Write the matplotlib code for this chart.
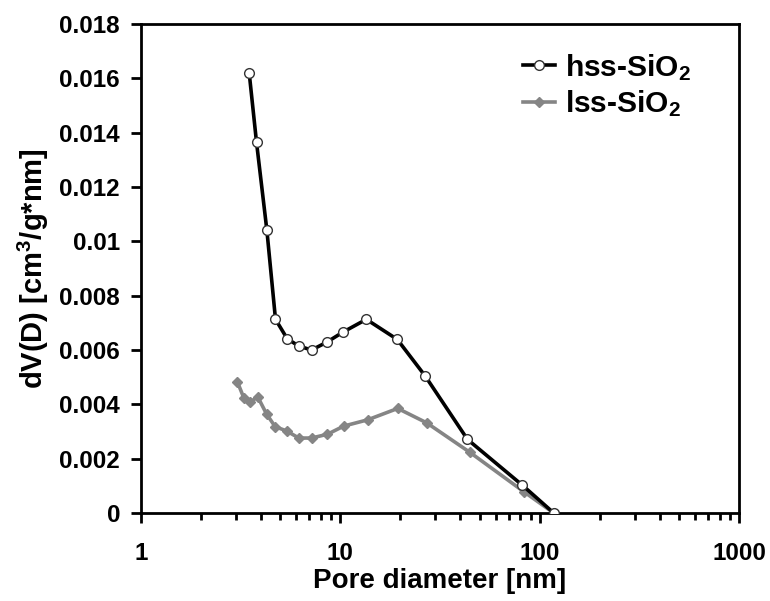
import matplotlib
matplotlib.use('Agg')
import matplotlib.pyplot as plt
from matplotlib.ticker import FixedLocator, LogLocator, NullFormatter

plt.rcParams['font.family'] = ['Liberation Sans', 'DejaVu Sans']
plt.rcParams['font.weight'] = 'bold'
plt.rcParams['mathtext.fontset'] = 'custom'
plt.rcParams['mathtext.rm'] = 'Liberation Sans:bold'
plt.rcParams['mathtext.bf'] = 'Liberation Sans:bold'
plt.rcParams['mathtext.it'] = 'Liberation Sans:bold'

# hss-SiO2 pore size distribution
hss_d = [3.49, 3.80, 4.28, 4.73, 5.41, 6.17, 7.17, 8.56, 10.26, 13.5, 19.3, 26.6, 43.4, 81.9, 117.5]
hss_v = [0.01621, 0.01364, 0.01042, 0.00713, 0.00642, 0.00615, 0.00600, 0.00629,
         0.00665, 0.00713, 0.00639, 0.00505, 0.00271, 0.00102, 0.0]

# lss-SiO2 pore size distribution
lss_d = [3.05, 3.28, 3.52, 3.85, 4.27, 4.71, 5.38, 6.19, 7.17, 8.62, 10.4, 13.7,
         19.4, 27.1, 44.7, 83.4, 117.5]
lss_v = [0.00482, 0.00424, 0.00407, 0.00428, 0.00364, 0.00318, 0.00302, 0.00276,
         0.00276, 0.00290, 0.00320, 0.00343, 0.00385, 0.00332, 0.00223, 0.00078, 0.0]

y_ticks = [0, 0.002, 0.004, 0.006, 0.008, 0.01, 0.012, 0.014, 0.016, 0.018]
y_labels = ['0', '0.002', '0.004', '0.006', '0.008', '0.01', '0.012', '0.014', '0.016', '0.018']
x_ticks = [1, 10, 100, 1000]
x_labels = ['1', '10', '100', '1000']

fig = plt.figure(figsize=(7.7, 6.01), dpi=100)
ax = fig.add_axes([0.183, 0.1464, 0.777, 0.8136])

ax.plot(lss_d, lss_v, color='#858585', lw=2.6, marker='D', markersize=5,
        markerfacecolor='#858585', markeredgecolor='#858585', label='lss-SiO$_2$', zorder=2)
ax.plot(hss_d, hss_v, color='black', lw=2.6, marker='o', markersize=7,
        markerfacecolor='white', markeredgecolor='#333333', markeredgewidth=1.0,
        label='hss-SiO$_2$', zorder=3)

ax.set_xscale('log')
ax.set_xlim(1, 1000)
ax.set_ylim(0, 0.018)
ax.xaxis.set_major_locator(FixedLocator(x_ticks))
ax.set_xticklabels(x_labels)
ax.xaxis.set_minor_locator(LogLocator(base=10, subs=range(2, 10)))
ax.xaxis.set_minor_formatter(NullFormatter())
ax.set_yticks(y_ticks)
ax.set_yticklabels(y_labels)

for s in ax.spines.values():
    s.set_linewidth(2.0)
ax.tick_params(axis='both', which='major', direction='out', length=7, width=2,
               labelsize=17.5)
ax.tick_params(axis='x', which='major', pad=14)
ax.tick_params(axis='y', which='major', pad=8)
ax.tick_params(axis='x', which='minor', direction='out', length=5, width=2)

ax.set_xlabel('Pore diameter [nm]', fontsize=20, fontweight='bold', labelpad=2)
ax.set_ylabel('dV(D) [cm$^3$/g*nm]', fontsize=21, fontweight='bold', labelpad=6)

h, l = ax.get_legend_handles_labels()
ax.legend(h[::-1], l[::-1], loc='upper left', frameon=False, fontsize=21.5,
          handlelength=1.05, handletextpad=0.35, labelspacing=0.2, borderpad=0,
          borderaxespad=0, bbox_to_anchor=(0.639, 0.943))

fig.savefig('out.png', dpi=100)
